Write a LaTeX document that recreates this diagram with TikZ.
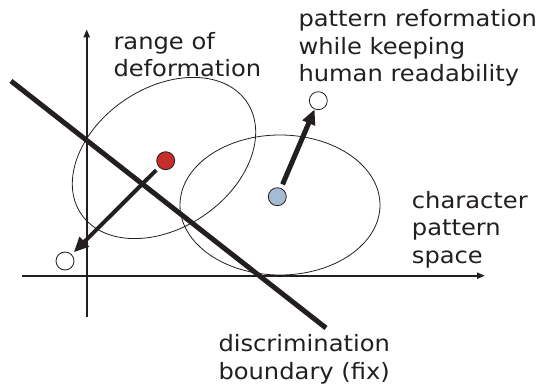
\documentclass[tikz,border=0pt]{standalone}
\usepackage{fontspec}
\setmainfont[FakeStretch=1.075]{DejaVu Sans}
\usetikzlibrary{arrows.meta}
\definecolor{ink}{HTML}{231F20}
\definecolor{dotred}{HTML}{C62D2B}
\definecolor{dotblue}{HTML}{A3BCD3}
\begin{document}
\begin{tikzpicture}[x=1pt,y=-1pt,
  lbl/.style={anchor=north west,inner sep=0pt,align=left,text=ink,
    font=\fontsize{22.5pt}{27.3pt}\selectfont},
  dot/.style={circle,draw=ink,line width=0.8pt,minimum size=18pt,inner sep=0pt},
  axisline/.style={draw=ink,line width=2pt,-{Triangle[length=8pt,width=6pt]}},
  boundline/.style={draw=ink,line width=5pt},
  region/.style={draw=ink,line width=0.8pt},
  movearrow/.style={draw=ink,-{Triangle[length=15pt,width=13pt]}}
]
\useasboundingbox (0,0) rectangle (544,387);
% axes
\coordinate (xs) at (21.7,275.7);
\coordinate (xe) at (485,275.7);
\coordinate (ys) at (86.7,317.3);
\coordinate (ye) at (86.7,29.3);
\draw[axisline] (xs) -- (xe);
\draw[axisline] (ys) -- (ye);
% ranges of deformation
\draw[region,rotate around={34:(164,158)}] (164,158) ellipse [x radius=100,y radius=70];
\draw[region] (280,205) ellipse [x radius=100,y radius=70];
% discrimination boundary
\coordinate (bs) at (11,81);
\coordinate (be) at (326,328);
\draw[boundline] (bs) -- (be);
% patterns
\node[dot,fill=dotred] (red) at (165.7,160.7) {};
\node[dot,fill=dotblue] (blue) at (277.3,196.7) {};
\node[dot,fill=white] (wbl) at (65,261) {};
\node[dot,fill=white] (wtr) at (318.3,100.7) {};
\draw[movearrow,line width=4pt,shorten <=4pt,shorten >=3pt] (red) -- (wbl);
\draw[movearrow,line width=5pt,shorten <=4pt] (blue) -- (wtr);
% labels
\node[lbl] (lrange) at (113.3,31.9) {range of\\deformation};
\node[lbl] (lreform) at (298.3,9.6) {pattern reformation\\while keeping\\human readability};
\node[lbl] (lspace) at (411.7,191.2) {character\\pattern\\space};
\node[lbl] (lbound) at (218.3,334.6) {discrimination\\boundary (fix)};
\end{tikzpicture}
\end{document}
